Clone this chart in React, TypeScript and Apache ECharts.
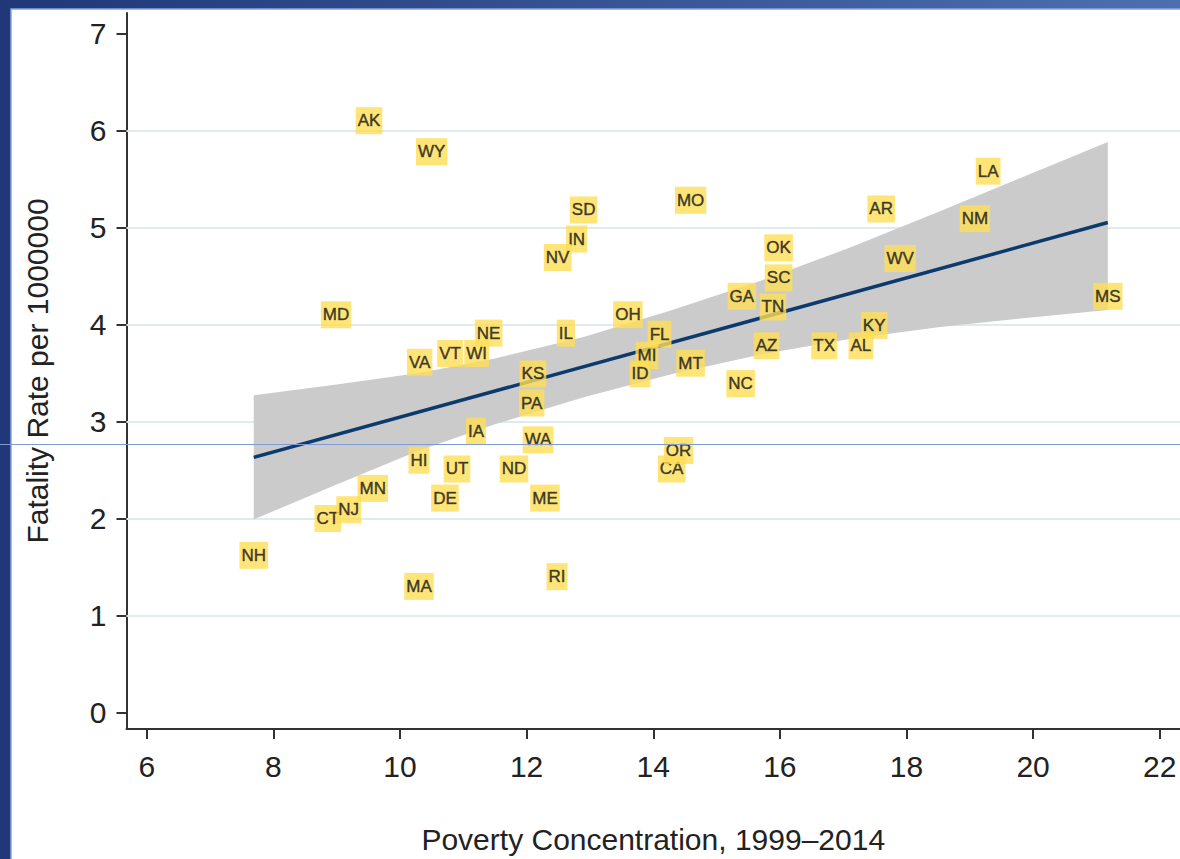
import React, { useEffect, useRef } from "react";
import * as echarts from "echarts";

// ---- data ----
const states = [
  "AK", "WY", "LA", "MO", "AR", "SD", "NM", "IN", "NV", "OK", "WV", "SC", "GA", "MS", "TN",
  "MD", "OH", "NE", "IL", "FL", "KY", "VT", "WI", "VA", "MI", "AZ", "TX", "AL", "MT", "KS",
  "ID", "NC", "PA", "IA", "WA", "CA", "OR", "HI", "UT", "ND", "MN", "DE", "ME", "CT", "NJ",
  "NH", "RI", "MA",
];
const poverty = [
  9.51, 10.5, 19.29, 14.59, 17.6, 12.9, 19.08, 12.79, 12.49, 15.98, 17.9, 15.98, 15.4, 21.18, 15.89,
  8.99, 13.6, 11.4, 12.62, 14.1, 17.49, 10.79, 11.21, 10.31, 13.9, 15.79, 16.7, 17.28, 14.59, 12.1,
  13.79, 15.38, 12.08, 11.2, 12.18, 14.29, 14.4, 10.3, 10.9, 11.8, 9.57, 10.71, 12.29, 8.86, 9.19,
  7.69, 12.48, 10.3,
];
const fatality = [
  6.1, 5.78, 5.58, 5.28, 5.19, 5.18, 5.09, 4.88, 4.69, 4.79, 4.68, 4.48, 4.29, 4.29, 4.18,
  4.1, 4.1, 3.91, 3.91, 3.9, 3.99, 3.7, 3.7, 3.61, 3.68, 3.78, 3.78, 3.78, 3.6, 3.49,
  3.49, 3.39, 3.19, 2.9, 2.81, 2.51, 2.7, 2.6, 2.51, 2.51, 2.31, 2.21, 2.21, 2.0, 2.09,
  1.62, 1.4, 1.3,
];

// fitted line and its confidence band
const fitX = [7.69, 21.18];
const fitY = [2.63, 5.05];
const bandX = [7.69, 9.0, 10.3, 11.5, 12.9, 14.3, 15.7, 17.1, 18.5, 19.8, 21.18];
const bandLower = [1.99, 2.35, 2.7, 2.97, 3.25, 3.49, 3.69, 3.85, 3.97, 4.06, 4.15];
const bandUpper = [3.27, 3.38, 3.5, 3.65, 3.87, 4.15, 4.45, 4.79, 5.16, 5.51, 5.88];

const xTicks = [6, 8, 10, 12, 14, 16, 18, 20, 22];
const yTicks = [0, 1, 2, 3, 4, 5, 6, 7];
const gridValues = [1, 2, 3, 4, 5, 6];

const FONT = "'Liberation Sans', Arial, Helvetica, sans-serif";

export default function App() {
  const ref = useRef<HTMLDivElement>(null);

  useEffect(() => {
    document.body.style.margin = "0";
    document.body.style.overflow = "hidden";
    if (!ref.current) return;
    const chart = echarts.init(ref.current, null, { renderer: "svg" });

    const option: any = {
      animation: false,
      backgroundColor: "#ffffff",
      textStyle: { fontFamily: FONT },
      graphic: [
        {
          type: "rect",
          z: -100,
          silent: true,
          shape: { x: 0, y: 0, width: 1180, height: 859 },
          style: {
            fill: new echarts.graphic.LinearGradient(0, 0, 1, 0, [
              { offset: 0, color: "#203778" },
              { offset: 1, color: "#4d6fb0" },
            ]),
          },
        },
        {
          type: "rect",
          z: -99,
          silent: true,
          shape: { x: 11, y: 9, width: 1175, height: 860 },
          style: { fill: "#ffffff", stroke: "#86a6de", lineWidth: 1.5 },
        },
        {
          type: "line",
          z: 100,
          silent: true,
          shape: { x1: 0, y1: 444.5, x2: 1180, y2: 444.5 },
          style: { stroke: "#7f9bd6", lineWidth: 1 },
        },
      ],
      grid: { left: 126.5, right: 0, top: 13, bottom: 128, containLabel: false },
      xAxis: {
        type: "value",
        min: 5.68,
        max: 22.32,
        name: "Poverty Concentration, 1999–2014",
        nameLocation: "middle",
        nameGap: 95,
        nameTextStyle: { fontSize: 30, color: "#222", fontFamily: FONT },
        axisLine: { show: true, onZero: false, lineStyle: { color: "#333", width: 2 } },
        axisTick: {
          show: true,
          customValues: xTicks,
          length: 10,
          lineStyle: { color: "#333", width: 2 },
        },
        axisLabel: {
          customValues: xTicks,
          formatter: (v: number) => String(v),
          fontSize: 30,
          color: "#222",
          margin: 22,
          fontFamily: FONT,
        },
        splitLine: { show: false },
      },
      yAxis: {
        type: "value",
        min: -0.17,
        max: 7.21,
        name: "Fatality Rate per 1000000",
        nameLocation: "middle",
        nameGap: 74,
        nameTextStyle: { fontSize: 30, color: "#222", fontFamily: FONT },
        axisLine: { show: true, onZero: false, lineStyle: { color: "#333", width: 2 } },
        axisTick: {
          show: true,
          customValues: yTicks,
          length: 10,
          lineStyle: { color: "#333", width: 2 },
        },
        axisLabel: {
          customValues: yTicks,
          formatter: (v: number) => String(v),
          fontSize: 30,
          color: "#222",
          margin: 20,
          fontFamily: FONT,
        },
        splitLine: { show: false },
      },
      series: [
        {
          type: "custom",
          name: "band",
          z: 2,
          silent: true,
          renderItem: (_params: any, api: any) => {
            const pts: number[][] = [];
            for (let i = 0; i < bandX.length; i++) pts.push(api.coord([bandX[i], bandUpper[i]]));
            for (let i = bandX.length - 1; i >= 0; i--) pts.push(api.coord([bandX[i], bandLower[i]]));
            return {
              type: "polygon",
              shape: { points: pts },
              style: { fill: "#cbcbcb" },
            };
          },
          data: [[bandX[0], bandLower[0]]],
        },
        {
          type: "line",
          name: "fit",
          z: 3,
          silent: true,
          symbol: "none",
          data: fitX.map((x, i) => [x, fitY[i]]),
          lineStyle: { color: "#0c3a6c", width: 3.5 },
          markLine: {
            silent: true,
            z: 1,
            symbol: ["none", "none"],
            label: { show: false },
            lineStyle: { color: "#e1ebee", width: 2, type: "solid" },
            data: gridValues.map((v) => ({ yAxis: v })),
          },
        },
        {
          type: "scatter",
          name: "states",
          z: 4,
          symbolSize: 1,
          itemStyle: { color: "rgba(0,0,0,0)" },
          data: states.map((s, i) => ({ name: s, value: [poverty[i], fatality[i]] })),
          label: {
            show: true,
            position: "inside",
            formatter: "{b}",
            fontSize: 17,
            fontFamily: FONT,
            color: "#141414",
            textBorderColor: "#3a3a2a",
            textBorderWidth: 0.5,
            backgroundColor: "#ffdd55",
            padding: [5, 2, 5, 2],
            lineHeight: 17,
          },
        },
      ],
    };

    chart.setOption(option);
    return () => chart.dispose();
  }, []);

  return <div ref={ref} style={{ width: 1180, height: 859 }} />;
}
